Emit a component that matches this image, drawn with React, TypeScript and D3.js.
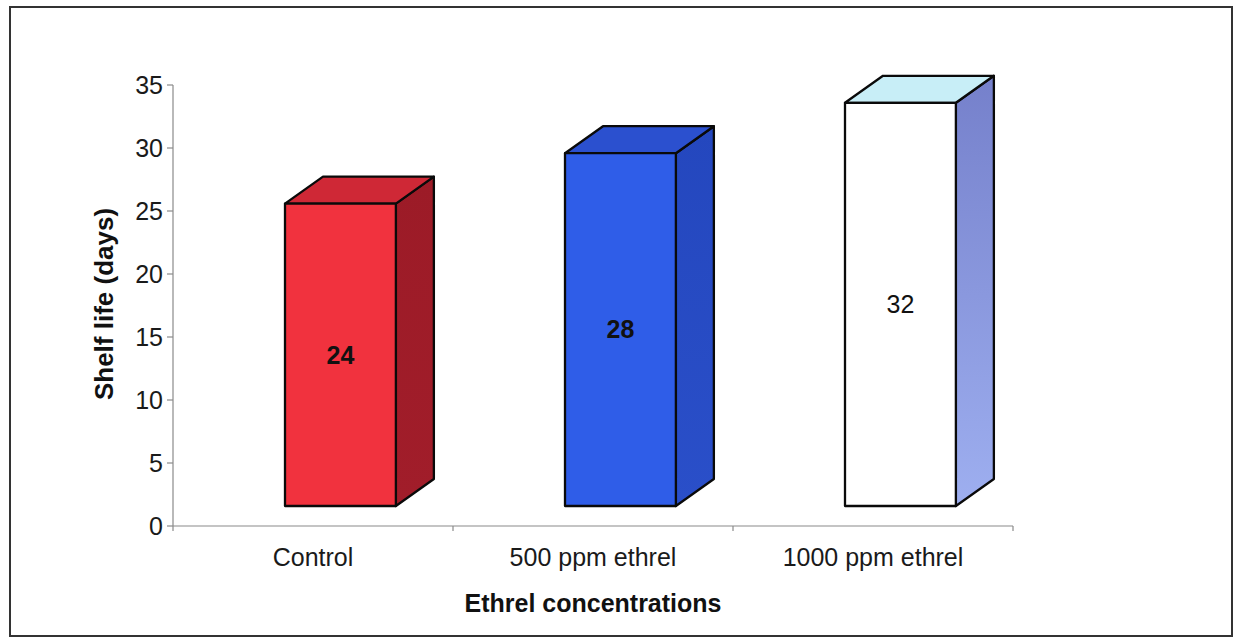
import React from "react";
import * as d3 from "d3";

// Shelf life by ethrel treatment
const categories: string[] = ["Control", "500 ppm ethrel", "1000 ppm ethrel"];
const shelfLife: number[] = [24, 28, 32];
const yTicks: number[] = [0, 5, 10, 15, 20, 25, 30, 35];

// Face colours per bar: front, top, side (side drawn as a vertical gradient)
const frontColors = ["#f1323e", "#2f5de8", "#ffffff"];
const topColors = ["#cf2836", "#2b50cf", "#c8eef7"];
const sideTopColors = ["#9c1b27", "#2447be", "#7580cb"];
const sideBottomColors = ["#a11d2a", "#2a4fc9", "#9eaff0"];
const labelWeights = ["bold", "bold", "normal"];

const W = 1241;
const H = 638;
const FONT = "Arial, 'Liberation Sans', Helvetica, sans-serif";

export default function App() {
  const x = d3.scaleBand<string>().domain(categories).range([173, 1013]).padding(0);
  const y = d3.scaleLinear().domain([0, 35]).range([526, 85]);

  const bw = x.bandwidth();
  const frontOffset = bw * 0.4;
  const frontWidth = bw * 0.396;
  const depthX = 38;
  const depthY = -27;
  const floorDrop = 20; // front faces sit this far below the back plane

  const yAxisX = x.range()[0];
  const xAxisEnd = x.range()[1];
  const baseY = y(0);

  return (
    <svg
      width={W}
      height={H}
      viewBox={`0 0 ${W} ${H}`}
      style={{ position: "absolute", left: 0, top: 0, display: "block", background: "#fff" }}
      fontFamily={FONT}
    >
      <defs>
        {categories.map((c, i) => (
          <linearGradient key={c} id={`side-${i}`} x1="0" y1="0" x2="0" y2="1">
            <stop offset="0%" stopColor={sideTopColors[i]} />
            <stop offset="100%" stopColor={sideBottomColors[i]} />
          </linearGradient>
        ))}
      </defs>

      <rect x={0} y={0} width={W} height={H} fill="#ffffff" />
      {/* chart frame */}
      <rect x={10} y={7} width={1222} height={629} fill="none" stroke="#333" strokeWidth={2} />

      {/* value axis */}
      <line x1={yAxisX} x2={yAxisX} y1={y(35)} y2={baseY} stroke="#8a8a8a" strokeWidth={1.2} />
      {yTicks.map((t) => (
        <g key={t}>
          <line x1={yAxisX - 6} x2={yAxisX} y1={y(t)} y2={y(t)} stroke="#8a8a8a" strokeWidth={1.2} />
          <text
            x={yAxisX - 10}
            y={y(t)}
            dy="0.35em"
            textAnchor="end"
            fontSize={25}
            fill="#1a1a1a"
          >
            {t}
          </text>
        </g>
      ))}

      {/* category axis */}
      <line x1={yAxisX} x2={xAxisEnd} y1={baseY} y2={baseY} stroke="#8a8a8a" strokeWidth={1.2} />
      {[...categories.map((c) => x(c) as number), xAxisEnd].map((tx, i) => (
        <line key={i} x1={tx} x2={tx} y1={baseY} y2={baseY + 5} stroke="#8a8a8a" strokeWidth={1.2} />
      ))}
      {categories.map((c) => (
        <text
          key={c}
          x={(x(c) as number) + bw / 2}
          y={566}
          textAnchor="middle"
          fontSize={25}
          fill="#1a1a1a"
        >
          {c}
        </text>
      ))}

      {/* 3-D columns */}
      {categories.map((c, i) => {
        const x0 = (x(c) as number) + frontOffset;
        const x1 = x0 + frontWidth;
        const yTop = y(shelfLife[i]) - floorDrop;
        const yBot = baseY - floorDrop;
        const top = `M${x0},${yTop} L${x0 + depthX},${yTop + depthY} L${x1 + depthX},${yTop + depthY} L${x1},${yTop} Z`;
        const side = `M${x1},${yTop} L${x1 + depthX},${yTop + depthY} L${x1 + depthX},${yBot + depthY} L${x1},${yBot} Z`;
        return (
          <g key={c} stroke="#0a0a0a" strokeWidth={2.3} strokeLinejoin="round">
            <path d={side} fill={`url(#side-${i})`} />
            <path d={top} fill={topColors[i]} />
            <rect x={x0} y={yTop} width={frontWidth} height={yBot - yTop} fill={frontColors[i]} />
            <text
              x={x0 + frontWidth / 2}
              y={(yTop + yBot) / 2}
              dy="0.35em"
              textAnchor="middle"
              fontSize={25}
              fontWeight={labelWeights[i]}
              fill="#111"
              stroke="none"
            >
              {shelfLife[i]}
            </text>
          </g>
        );
      })}

      {/* axis titles */}
      <text
        x={(yAxisX + xAxisEnd) / 2}
        y={612}
        textAnchor="middle"
        fontSize={25}
        fontWeight="bold"
        fill="#111"
      >
        Ethrel concentrations
      </text>
      <text
        transform={`translate(113, ${304}) rotate(-90)`}
        textAnchor="middle"
        fontSize={26}
        fontWeight="bold"
        fill="#111"
      >
        Shelf life (days)
      </text>
    </svg>
  );
}
